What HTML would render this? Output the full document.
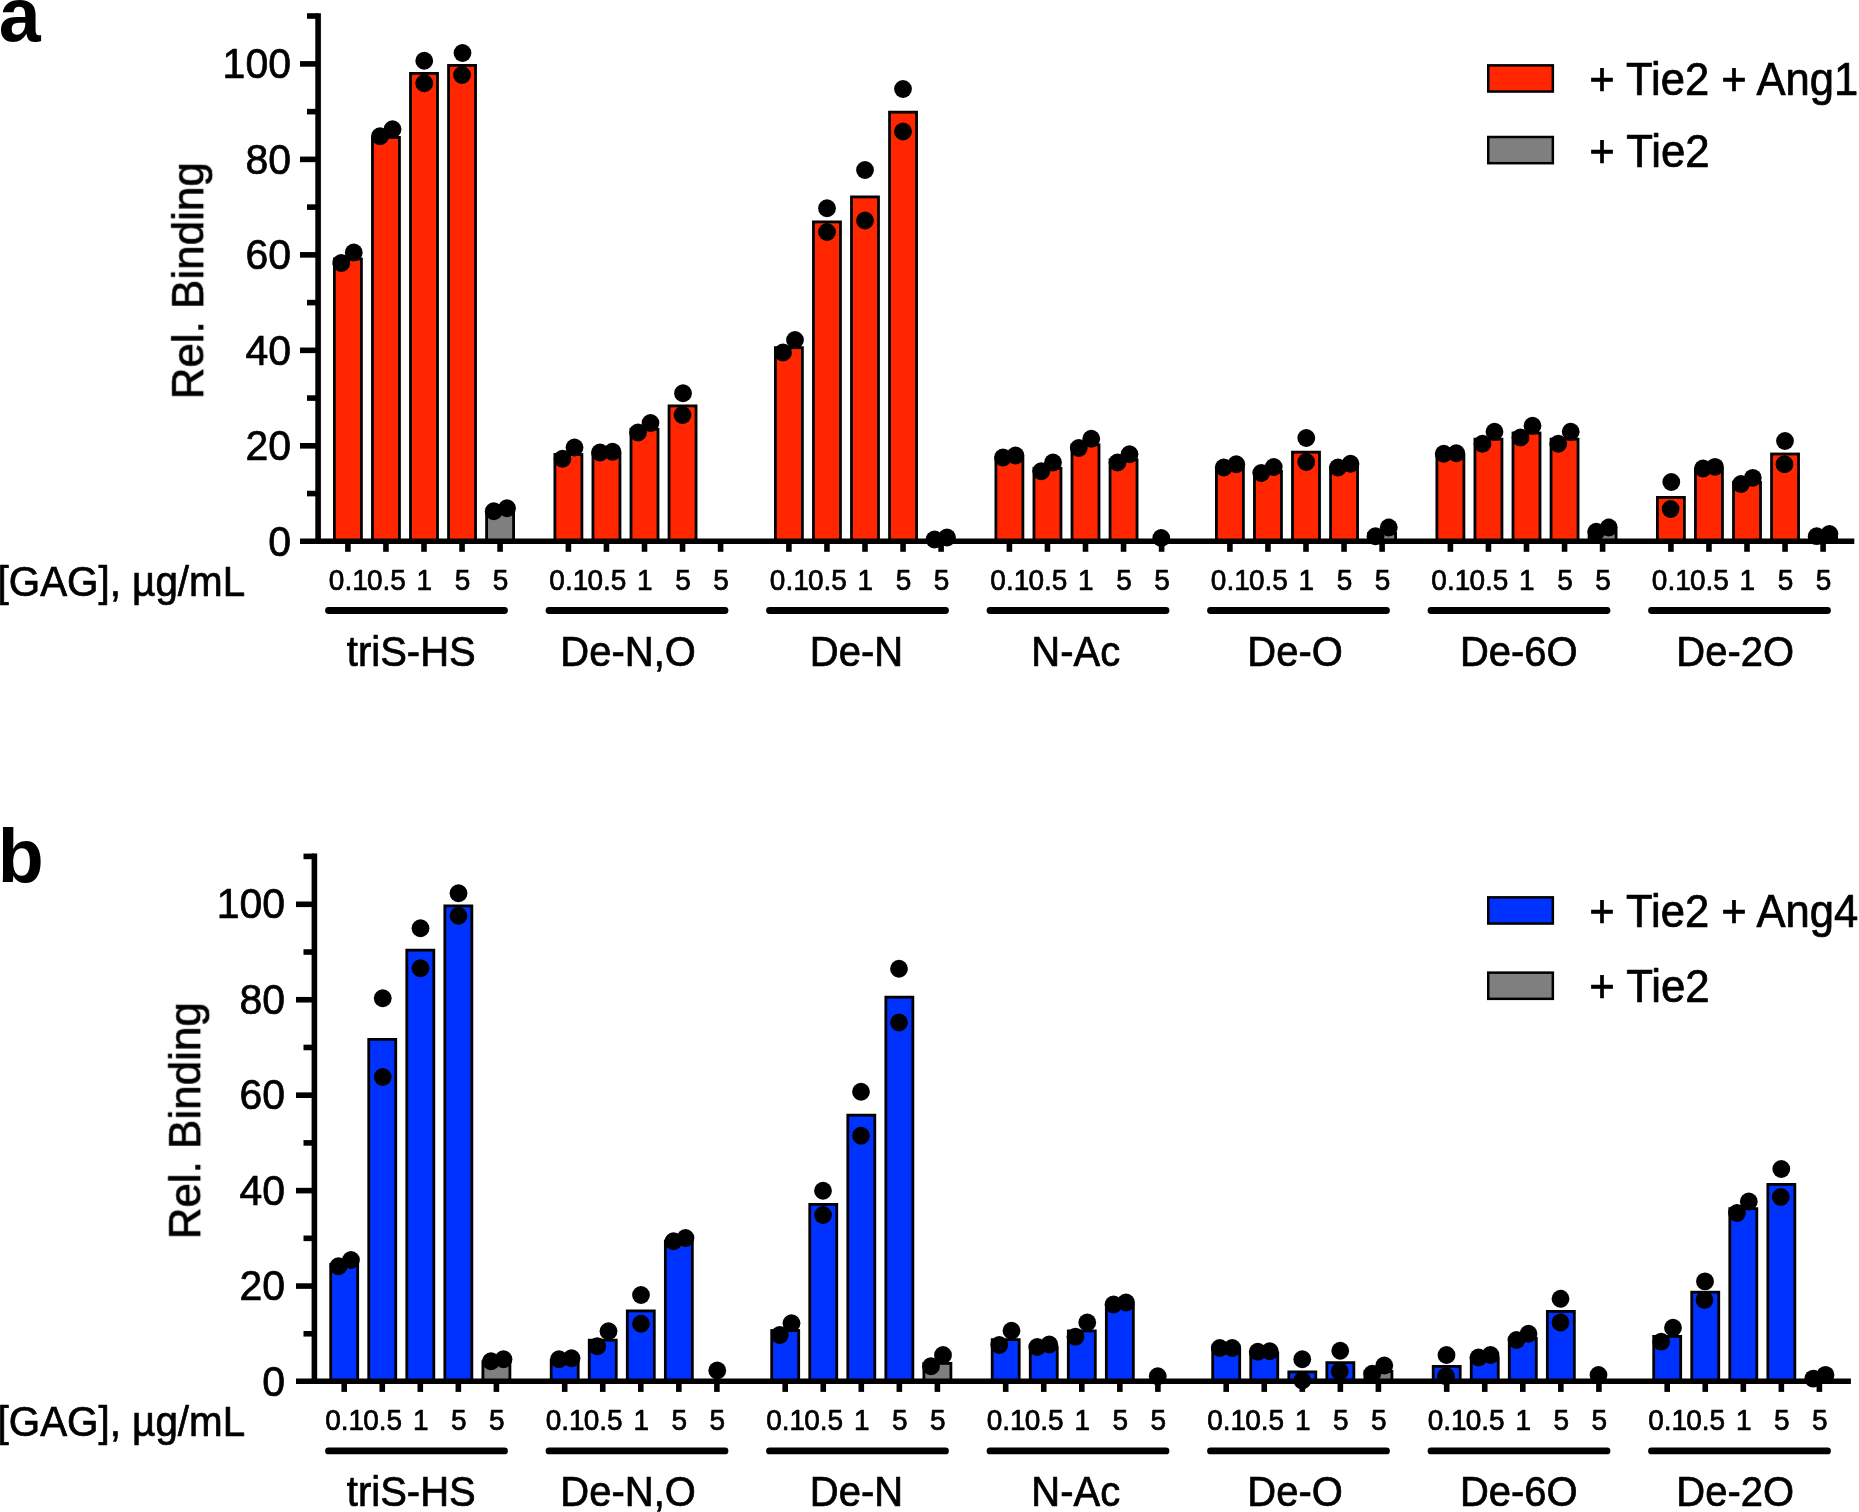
<!DOCTYPE html>
<html lang="en">
<head>
<meta charset="utf-8">
<title>Rel. Binding of Tie2 to GAGs</title>
<style>
html,body{margin:0;padding:0;background:#fff;}
body{width:1859px;height:1512px;overflow:hidden;}
svg{display:block;}
svg text{font-family:"Liberation Sans", Arial, Helvetica, sans-serif;fill:#000;stroke:#000;stroke-width:0.7px;stroke-linejoin:round;}
</style>
</head>
<body>
<svg width="1859" height="1512" viewBox="0 0 1859 1512">
<defs><filter id="soft" x="0" y="0" width="1859" height="1512" filterUnits="userSpaceOnUse"><feGaussianBlur stdDeviation="0.55"/></filter></defs>
<rect width="1859" height="1512" fill="#fff"/>
<g filter="url(#soft)">
<g id="chart-a">
<rect x="334.4" y="258.9" width="27" height="282.3" fill="#FF2600" stroke="#000" stroke-width="2.8"/>
<rect x="372.45" y="137.4" width="27" height="403.8" fill="#FF2600" stroke="#000" stroke-width="2.8"/>
<rect x="410.5" y="73.4" width="27" height="467.8" fill="#FF2600" stroke="#000" stroke-width="2.8"/>
<rect x="448.55" y="65.4" width="27" height="475.8" fill="#FF2600" stroke="#000" stroke-width="2.8"/>
<rect x="486.6" y="511.15" width="27" height="30.05" fill="#7F7F7F" stroke="#000" stroke-width="2.8"/>
<rect x="554.9" y="454.5" width="27" height="86.7" fill="#FF2600" stroke="#000" stroke-width="2.8"/>
<rect x="592.95" y="453.5" width="27" height="87.7" fill="#FF2600" stroke="#000" stroke-width="2.8"/>
<rect x="631" y="429.15" width="27" height="112.05" fill="#FF2600" stroke="#000" stroke-width="2.8"/>
<rect x="669.05" y="405.9" width="27" height="135.3" fill="#FF2600" stroke="#000" stroke-width="2.8"/>
<rect x="775.4" y="347.65" width="27" height="193.55" fill="#FF2600" stroke="#000" stroke-width="2.8"/>
<rect x="813.45" y="221.9" width="27" height="319.3" fill="#FF2600" stroke="#000" stroke-width="2.8"/>
<rect x="851.5" y="196.9" width="27" height="344.3" fill="#FF2600" stroke="#000" stroke-width="2.8"/>
<rect x="889.55" y="112.15" width="27" height="429.05" fill="#FF2600" stroke="#000" stroke-width="2.8"/>
<rect x="995.9" y="457.9" width="27" height="83.3" fill="#FF2600" stroke="#000" stroke-width="2.8"/>
<rect x="1033.95" y="468.3" width="27" height="72.9" fill="#FF2600" stroke="#000" stroke-width="2.8"/>
<rect x="1072" y="444.8" width="27" height="96.4" fill="#FF2600" stroke="#000" stroke-width="2.8"/>
<rect x="1110.05" y="459.8" width="27" height="81.4" fill="#FF2600" stroke="#000" stroke-width="2.8"/>
<rect x="1216.4" y="467.3" width="27" height="73.9" fill="#FF2600" stroke="#000" stroke-width="2.8"/>
<rect x="1254.45" y="471.4" width="27" height="69.8" fill="#FF2600" stroke="#000" stroke-width="2.8"/>
<rect x="1292.5" y="452.15" width="27" height="89.05" fill="#FF2600" stroke="#000" stroke-width="2.8"/>
<rect x="1330.55" y="467" width="27" height="74.2" fill="#FF2600" stroke="#000" stroke-width="2.8"/>
<rect x="1368.6" y="533.4" width="27" height="7.8" fill="#7F7F7F" stroke="#000" stroke-width="2.8"/>
<rect x="1436.9" y="454.9" width="27" height="86.3" fill="#FF2600" stroke="#000" stroke-width="2.8"/>
<rect x="1474.95" y="439.15" width="27" height="102.05" fill="#FF2600" stroke="#000" stroke-width="2.8"/>
<rect x="1513" y="433" width="27" height="108.2" fill="#FF2600" stroke="#000" stroke-width="2.8"/>
<rect x="1551.05" y="439.15" width="27" height="102.05" fill="#FF2600" stroke="#000" stroke-width="2.8"/>
<rect x="1589.1" y="531" width="27" height="10.2" fill="#7F7F7F" stroke="#000" stroke-width="2.8"/>
<rect x="1657.4" y="497.4" width="27" height="43.8" fill="#FF2600" stroke="#000" stroke-width="2.8"/>
<rect x="1695.45" y="469" width="27" height="72.2" fill="#FF2600" stroke="#000" stroke-width="2.8"/>
<rect x="1733.5" y="482.3" width="27" height="58.9" fill="#FF2600" stroke="#000" stroke-width="2.8"/>
<rect x="1771.55" y="454" width="27" height="87.2" fill="#FF2600" stroke="#000" stroke-width="2.8"/>
<rect x="1809.6" y="536.4" width="27" height="4.8" fill="#7F7F7F" stroke="#000" stroke-width="2.8"/>
<g stroke="#000" fill="none">
<line x1="318.1" y1="13.2" x2="318.1" y2="544" stroke-width="5.6"/>
<line x1="300" y1="541.2" x2="1854.3" y2="541.2" stroke-width="5.6"/>
<line x1="307" y1="493.56" x2="318.1" y2="493.56" stroke-width="5.6"/>
<line x1="300" y1="445.82" x2="318.1" y2="445.82" stroke-width="5.6"/>
<line x1="307" y1="398.08" x2="318.1" y2="398.08" stroke-width="5.6"/>
<line x1="300" y1="350.34" x2="318.1" y2="350.34" stroke-width="5.6"/>
<line x1="307" y1="302.6" x2="318.1" y2="302.6" stroke-width="5.6"/>
<line x1="300" y1="254.86" x2="318.1" y2="254.86" stroke-width="5.6"/>
<line x1="307" y1="207.12" x2="318.1" y2="207.12" stroke-width="5.6"/>
<line x1="300" y1="159.38" x2="318.1" y2="159.38" stroke-width="5.6"/>
<line x1="307" y1="111.64" x2="318.1" y2="111.64" stroke-width="5.6"/>
<line x1="300" y1="63.9" x2="318.1" y2="63.9" stroke-width="5.6"/>
<line x1="307" y1="16" x2="318.1" y2="16" stroke-width="5.6"/>
<line x1="347.9" y1="541.2" x2="347.9" y2="551.8" stroke-width="5.6"/>
<line x1="385.95" y1="541.2" x2="385.95" y2="551.8" stroke-width="5.6"/>
<line x1="424" y1="541.2" x2="424" y2="551.8" stroke-width="5.6"/>
<line x1="462.05" y1="541.2" x2="462.05" y2="551.8" stroke-width="5.6"/>
<line x1="500.1" y1="541.2" x2="500.1" y2="551.8" stroke-width="5.6"/>
<line x1="568.4" y1="541.2" x2="568.4" y2="551.8" stroke-width="5.6"/>
<line x1="606.45" y1="541.2" x2="606.45" y2="551.8" stroke-width="5.6"/>
<line x1="644.5" y1="541.2" x2="644.5" y2="551.8" stroke-width="5.6"/>
<line x1="682.55" y1="541.2" x2="682.55" y2="551.8" stroke-width="5.6"/>
<line x1="720.6" y1="541.2" x2="720.6" y2="551.8" stroke-width="5.6"/>
<line x1="788.9" y1="541.2" x2="788.9" y2="551.8" stroke-width="5.6"/>
<line x1="826.95" y1="541.2" x2="826.95" y2="551.8" stroke-width="5.6"/>
<line x1="865" y1="541.2" x2="865" y2="551.8" stroke-width="5.6"/>
<line x1="903.05" y1="541.2" x2="903.05" y2="551.8" stroke-width="5.6"/>
<line x1="941.1" y1="541.2" x2="941.1" y2="551.8" stroke-width="5.6"/>
<line x1="1009.4" y1="541.2" x2="1009.4" y2="551.8" stroke-width="5.6"/>
<line x1="1047.45" y1="541.2" x2="1047.45" y2="551.8" stroke-width="5.6"/>
<line x1="1085.5" y1="541.2" x2="1085.5" y2="551.8" stroke-width="5.6"/>
<line x1="1123.55" y1="541.2" x2="1123.55" y2="551.8" stroke-width="5.6"/>
<line x1="1161.6" y1="541.2" x2="1161.6" y2="551.8" stroke-width="5.6"/>
<line x1="1229.9" y1="541.2" x2="1229.9" y2="551.8" stroke-width="5.6"/>
<line x1="1267.95" y1="541.2" x2="1267.95" y2="551.8" stroke-width="5.6"/>
<line x1="1306" y1="541.2" x2="1306" y2="551.8" stroke-width="5.6"/>
<line x1="1344.05" y1="541.2" x2="1344.05" y2="551.8" stroke-width="5.6"/>
<line x1="1382.1" y1="541.2" x2="1382.1" y2="551.8" stroke-width="5.6"/>
<line x1="1450.4" y1="541.2" x2="1450.4" y2="551.8" stroke-width="5.6"/>
<line x1="1488.45" y1="541.2" x2="1488.45" y2="551.8" stroke-width="5.6"/>
<line x1="1526.5" y1="541.2" x2="1526.5" y2="551.8" stroke-width="5.6"/>
<line x1="1564.55" y1="541.2" x2="1564.55" y2="551.8" stroke-width="5.6"/>
<line x1="1602.6" y1="541.2" x2="1602.6" y2="551.8" stroke-width="5.6"/>
<line x1="1670.9" y1="541.2" x2="1670.9" y2="551.8" stroke-width="5.6"/>
<line x1="1708.95" y1="541.2" x2="1708.95" y2="551.8" stroke-width="5.6"/>
<line x1="1747" y1="541.2" x2="1747" y2="551.8" stroke-width="5.6"/>
<line x1="1785.05" y1="541.2" x2="1785.05" y2="551.8" stroke-width="5.6"/>
<line x1="1823.1" y1="541.2" x2="1823.1" y2="551.8" stroke-width="5.6"/>
</g>
<g fill="#000">
<circle cx="341.25" cy="263" r="8.9"/>
<circle cx="353.75" cy="252.5" r="8.9"/>
<circle cx="380" cy="136.25" r="8.9"/>
<circle cx="392.5" cy="129.25" r="8.9"/>
<circle cx="424.25" cy="60.75" r="8.9"/>
<circle cx="424.25" cy="83.25" r="8.9"/>
<circle cx="462.5" cy="53" r="8.9"/>
<circle cx="462" cy="75" r="8.9"/>
<circle cx="493.75" cy="511.25" r="8.9"/>
<circle cx="507" cy="508.25" r="8.9"/>
<circle cx="562.5" cy="458.75" r="8.9"/>
<circle cx="574.5" cy="447.5" r="8.9"/>
<circle cx="600" cy="452.5" r="8.9"/>
<circle cx="612.5" cy="451.75" r="8.9"/>
<circle cx="638" cy="432.5" r="8.9"/>
<circle cx="650.5" cy="423" r="8.9"/>
<circle cx="683" cy="393.25" r="8.9"/>
<circle cx="682.5" cy="415" r="8.9"/>
<circle cx="783" cy="352.5" r="8.9"/>
<circle cx="795" cy="340" r="8.9"/>
<circle cx="827" cy="208.25" r="8.9"/>
<circle cx="827" cy="232" r="8.9"/>
<circle cx="865" cy="170" r="8.9"/>
<circle cx="865" cy="220.5" r="8.9"/>
<circle cx="903" cy="89" r="8.9"/>
<circle cx="903" cy="131.5" r="8.9"/>
<circle cx="934.5" cy="539.5" r="8.9"/>
<circle cx="947" cy="537.5" r="8.9"/>
<circle cx="1003" cy="457.5" r="8.9"/>
<circle cx="1015.5" cy="455.5" r="8.9"/>
<circle cx="1041.25" cy="471.25" r="8.9"/>
<circle cx="1053" cy="462.5" r="8.9"/>
<circle cx="1078.75" cy="448" r="8.9"/>
<circle cx="1091.25" cy="438.75" r="8.9"/>
<circle cx="1117.5" cy="462.5" r="8.9"/>
<circle cx="1129.5" cy="454.25" r="8.9"/>
<circle cx="1161.25" cy="538" r="8.9"/>
<circle cx="1223.75" cy="467.5" r="8.9"/>
<circle cx="1236.25" cy="464.25" r="8.9"/>
<circle cx="1261.25" cy="473" r="8.9"/>
<circle cx="1273.75" cy="467" r="8.9"/>
<circle cx="1306.25" cy="438" r="8.9"/>
<circle cx="1306.25" cy="462" r="8.9"/>
<circle cx="1338" cy="467.5" r="8.9"/>
<circle cx="1350.5" cy="463.75" r="8.9"/>
<circle cx="1375.5" cy="536.25" r="8.9"/>
<circle cx="1388.75" cy="527.5" r="8.9"/>
<circle cx="1443.75" cy="453.75" r="8.9"/>
<circle cx="1456.25" cy="453.25" r="8.9"/>
<circle cx="1482.5" cy="443.75" r="8.9"/>
<circle cx="1494.5" cy="431.75" r="8.9"/>
<circle cx="1520.5" cy="437.5" r="8.9"/>
<circle cx="1532.5" cy="425.75" r="8.9"/>
<circle cx="1558.25" cy="443.75" r="8.9"/>
<circle cx="1570.75" cy="431.75" r="8.9"/>
<circle cx="1596.25" cy="531.75" r="8.9"/>
<circle cx="1608.75" cy="527.5" r="8.9"/>
<circle cx="1671.3" cy="482" r="8.9"/>
<circle cx="1670.6" cy="509" r="8.9"/>
<circle cx="1703" cy="468.5" r="8.9"/>
<circle cx="1715" cy="466.8" r="8.9"/>
<circle cx="1741" cy="484" r="8.9"/>
<circle cx="1752.8" cy="477.8" r="8.9"/>
<circle cx="1785" cy="441" r="8.9"/>
<circle cx="1784.5" cy="464.2" r="8.9"/>
<circle cx="1816.7" cy="536.2" r="8.9"/>
<circle cx="1829.4" cy="534" r="8.9"/>
</g>
<text transform="translate(291 555.5) scale(1 1.05)" font-size="41" text-anchor="end">0</text>
<text transform="translate(291 460.02) scale(1 1.05)" font-size="41" text-anchor="end">20</text>
<text transform="translate(291 364.54) scale(1 1.05)" font-size="41" text-anchor="end">40</text>
<text transform="translate(291 269.06) scale(1 1.05)" font-size="41" text-anchor="end">60</text>
<text transform="translate(291 173.58) scale(1 1.05)" font-size="41" text-anchor="end">80</text>
<text transform="translate(291 78.1) scale(1 1.05)" font-size="41" text-anchor="end">100</text>
<text transform="translate(348.3 589.8) scale(1 1.045)" font-size="28" text-anchor="middle">0.1</text>
<text transform="translate(386.35 589.8) scale(1 1.045)" font-size="28" text-anchor="middle">0.5</text>
<text transform="translate(424.4 589.8) scale(1 1.045)" font-size="28" text-anchor="middle">1</text>
<text transform="translate(462.45 589.8) scale(1 1.045)" font-size="28" text-anchor="middle">5</text>
<text transform="translate(500.5 589.8) scale(1 1.045)" font-size="28" text-anchor="middle">5</text>
<text transform="translate(568.8 589.8) scale(1 1.045)" font-size="28" text-anchor="middle">0.1</text>
<text transform="translate(606.85 589.8) scale(1 1.045)" font-size="28" text-anchor="middle">0.5</text>
<text transform="translate(644.9 589.8) scale(1 1.045)" font-size="28" text-anchor="middle">1</text>
<text transform="translate(682.95 589.8) scale(1 1.045)" font-size="28" text-anchor="middle">5</text>
<text transform="translate(721 589.8) scale(1 1.045)" font-size="28" text-anchor="middle">5</text>
<text transform="translate(789.3 589.8) scale(1 1.045)" font-size="28" text-anchor="middle">0.1</text>
<text transform="translate(827.35 589.8) scale(1 1.045)" font-size="28" text-anchor="middle">0.5</text>
<text transform="translate(865.4 589.8) scale(1 1.045)" font-size="28" text-anchor="middle">1</text>
<text transform="translate(903.45 589.8) scale(1 1.045)" font-size="28" text-anchor="middle">5</text>
<text transform="translate(941.5 589.8) scale(1 1.045)" font-size="28" text-anchor="middle">5</text>
<text transform="translate(1009.8 589.8) scale(1 1.045)" font-size="28" text-anchor="middle">0.1</text>
<text transform="translate(1047.85 589.8) scale(1 1.045)" font-size="28" text-anchor="middle">0.5</text>
<text transform="translate(1085.9 589.8) scale(1 1.045)" font-size="28" text-anchor="middle">1</text>
<text transform="translate(1123.95 589.8) scale(1 1.045)" font-size="28" text-anchor="middle">5</text>
<text transform="translate(1162 589.8) scale(1 1.045)" font-size="28" text-anchor="middle">5</text>
<text transform="translate(1230.3 589.8) scale(1 1.045)" font-size="28" text-anchor="middle">0.1</text>
<text transform="translate(1268.35 589.8) scale(1 1.045)" font-size="28" text-anchor="middle">0.5</text>
<text transform="translate(1306.4 589.8) scale(1 1.045)" font-size="28" text-anchor="middle">1</text>
<text transform="translate(1344.45 589.8) scale(1 1.045)" font-size="28" text-anchor="middle">5</text>
<text transform="translate(1382.5 589.8) scale(1 1.045)" font-size="28" text-anchor="middle">5</text>
<text transform="translate(1450.8 589.8) scale(1 1.045)" font-size="28" text-anchor="middle">0.1</text>
<text transform="translate(1488.85 589.8) scale(1 1.045)" font-size="28" text-anchor="middle">0.5</text>
<text transform="translate(1526.9 589.8) scale(1 1.045)" font-size="28" text-anchor="middle">1</text>
<text transform="translate(1564.95 589.8) scale(1 1.045)" font-size="28" text-anchor="middle">5</text>
<text transform="translate(1603 589.8) scale(1 1.045)" font-size="28" text-anchor="middle">5</text>
<text transform="translate(1671.3 589.8) scale(1 1.045)" font-size="28" text-anchor="middle">0.1</text>
<text transform="translate(1709.35 589.8) scale(1 1.045)" font-size="28" text-anchor="middle">0.5</text>
<text transform="translate(1747.4 589.8) scale(1 1.045)" font-size="28" text-anchor="middle">1</text>
<text transform="translate(1785.45 589.8) scale(1 1.045)" font-size="28" text-anchor="middle">5</text>
<text transform="translate(1823.5 589.8) scale(1 1.045)" font-size="28" text-anchor="middle">5</text>
<g stroke="#000" stroke-width="6.8" stroke-linecap="round">
<line x1="328.5" y1="610.5" x2="504.5" y2="610.5"/>
<line x1="549" y1="610.5" x2="725" y2="610.5"/>
<line x1="769.5" y1="610.5" x2="945.5" y2="610.5"/>
<line x1="990" y1="610.5" x2="1166" y2="610.5"/>
<line x1="1210.5" y1="610.5" x2="1386.5" y2="610.5"/>
<line x1="1431" y1="610.5" x2="1607" y2="610.5"/>
<line x1="1651.5" y1="610.5" x2="1827.5" y2="610.5"/>
</g>
<text transform="translate(411.25 665.7) scale(1 1.045)" font-size="40" text-anchor="middle">triS-HS</text>
<text transform="translate(628.1 665.7) scale(1 1.045)" font-size="40" text-anchor="middle">De-N,O</text>
<text transform="translate(856.5 665.7) scale(1 1.045)" font-size="40" text-anchor="middle">De-N</text>
<text transform="translate(1075.8 665.7) scale(1 1.045)" font-size="40" text-anchor="middle">N-Ac</text>
<text transform="translate(1295.1 665.7) scale(1 1.045)" font-size="40" text-anchor="middle">De-O</text>
<text transform="translate(1518.8 665.7) scale(1 1.045)" font-size="40" text-anchor="middle">De-6O</text>
<text transform="translate(1735.2 665.7) scale(1 1.045)" font-size="40" text-anchor="middle">De-2O</text>
<text transform="translate(203.2 280.8) rotate(-90)" font-size="44" text-anchor="middle">Rel. Binding</text>
<text transform="translate(-2.5 595.6) scale(1 1.045)" font-size="40.4">[GAG], µg/mL</text>
<rect x="1488.25" y="65.35" width="64.6" height="26.2" fill="#FF2600" stroke="#000" stroke-width="2.5"/>
<rect x="1488.25" y="137" width="64.6" height="26.2" fill="#7F7F7F" stroke="#000" stroke-width="2.5"/>
<text transform="translate(1589.2 94.9) scale(1 1.045)" font-size="43.6">+ Tie2 + Ang1</text>
<text transform="translate(1589.2 167) scale(1 1.045)" font-size="43.8">+ Tie2</text>
<text style="stroke-width:0" transform="translate(-1.3 40.8)" font-size="75.3" font-weight="bold">a</text>
</g>
<g id="chart-b">
<rect x="330.7" y="1264.5" width="27" height="116.8" fill="#0433FF" stroke="#000" stroke-width="2.8"/>
<rect x="368.75" y="1039.4" width="27" height="341.9" fill="#0433FF" stroke="#000" stroke-width="2.8"/>
<rect x="406.8" y="950.15" width="27" height="431.15" fill="#0433FF" stroke="#000" stroke-width="2.8"/>
<rect x="444.85" y="905.9" width="27" height="475.4" fill="#0433FF" stroke="#000" stroke-width="2.8"/>
<rect x="482.9" y="1361.65" width="27" height="19.65" fill="#7F7F7F" stroke="#000" stroke-width="2.8"/>
<rect x="551.2" y="1360.15" width="27" height="21.15" fill="#0433FF" stroke="#000" stroke-width="2.8"/>
<rect x="589.25" y="1340.15" width="27" height="41.15" fill="#0433FF" stroke="#000" stroke-width="2.8"/>
<rect x="627.3" y="1310.9" width="27" height="70.4" fill="#0433FF" stroke="#000" stroke-width="2.8"/>
<rect x="665.35" y="1241" width="27" height="140.3" fill="#0433FF" stroke="#000" stroke-width="2.8"/>
<rect x="771.7" y="1330.5" width="27" height="50.8" fill="#0433FF" stroke="#000" stroke-width="2.8"/>
<rect x="809.75" y="1204.4" width="27" height="176.9" fill="#0433FF" stroke="#000" stroke-width="2.8"/>
<rect x="847.8" y="1115.15" width="27" height="266.15" fill="#0433FF" stroke="#000" stroke-width="2.8"/>
<rect x="885.85" y="997.15" width="27" height="384.15" fill="#0433FF" stroke="#000" stroke-width="2.8"/>
<rect x="923.9" y="1363.4" width="27" height="17.9" fill="#7F7F7F" stroke="#000" stroke-width="2.8"/>
<rect x="992.2" y="1339.65" width="27" height="41.65" fill="#0433FF" stroke="#000" stroke-width="2.8"/>
<rect x="1030.25" y="1347.15" width="27" height="34.15" fill="#0433FF" stroke="#000" stroke-width="2.8"/>
<rect x="1068.3" y="1330.9" width="27" height="50.4" fill="#0433FF" stroke="#000" stroke-width="2.8"/>
<rect x="1106.35" y="1304.9" width="27" height="76.4" fill="#0433FF" stroke="#000" stroke-width="2.8"/>
<rect x="1212.7" y="1349.4" width="27" height="31.9" fill="#0433FF" stroke="#000" stroke-width="2.8"/>
<rect x="1250.75" y="1352.9" width="27" height="28.4" fill="#0433FF" stroke="#000" stroke-width="2.8"/>
<rect x="1288.8" y="1371.9" width="27" height="9.4" fill="#0433FF" stroke="#000" stroke-width="2.8"/>
<rect x="1326.85" y="1362.65" width="27" height="18.65" fill="#0433FF" stroke="#000" stroke-width="2.8"/>
<rect x="1364.9" y="1371.4" width="27" height="9.9" fill="#7F7F7F" stroke="#000" stroke-width="2.8"/>
<rect x="1433.2" y="1366.4" width="27" height="14.9" fill="#0433FF" stroke="#000" stroke-width="2.8"/>
<rect x="1471.25" y="1357.65" width="27" height="23.65" fill="#0433FF" stroke="#000" stroke-width="2.8"/>
<rect x="1509.3" y="1338.3" width="27" height="43" fill="#0433FF" stroke="#000" stroke-width="2.8"/>
<rect x="1547.35" y="1311.4" width="27" height="69.9" fill="#0433FF" stroke="#000" stroke-width="2.8"/>
<rect x="1653.7" y="1336.4" width="27" height="44.9" fill="#0433FF" stroke="#000" stroke-width="2.8"/>
<rect x="1691.75" y="1292.2" width="27" height="89.1" fill="#0433FF" stroke="#000" stroke-width="2.8"/>
<rect x="1729.8" y="1208.65" width="27" height="172.65" fill="#0433FF" stroke="#000" stroke-width="2.8"/>
<rect x="1767.85" y="1184.4" width="27" height="196.9" fill="#0433FF" stroke="#000" stroke-width="2.8"/>
<g stroke="#000" fill="none">
<line x1="314.4" y1="853.6" x2="314.4" y2="1384.1" stroke-width="5.6"/>
<line x1="296" y1="1381.3" x2="1850.9" y2="1381.3" stroke-width="5.6"/>
<line x1="303.5" y1="1333.78" x2="314.4" y2="1333.78" stroke-width="5.6"/>
<line x1="296" y1="1286.06" x2="314.4" y2="1286.06" stroke-width="5.6"/>
<line x1="303.5" y1="1238.34" x2="314.4" y2="1238.34" stroke-width="5.6"/>
<line x1="296" y1="1190.62" x2="314.4" y2="1190.62" stroke-width="5.6"/>
<line x1="303.5" y1="1142.9" x2="314.4" y2="1142.9" stroke-width="5.6"/>
<line x1="296" y1="1095.18" x2="314.4" y2="1095.18" stroke-width="5.6"/>
<line x1="303.5" y1="1047.46" x2="314.4" y2="1047.46" stroke-width="5.6"/>
<line x1="296" y1="999.74" x2="314.4" y2="999.74" stroke-width="5.6"/>
<line x1="303.5" y1="952.02" x2="314.4" y2="952.02" stroke-width="5.6"/>
<line x1="296" y1="904.3" x2="314.4" y2="904.3" stroke-width="5.6"/>
<line x1="303.5" y1="856.4" x2="314.4" y2="856.4" stroke-width="5.6"/>
<line x1="344.2" y1="1381.3" x2="344.2" y2="1391.9" stroke-width="5.6"/>
<line x1="382.25" y1="1381.3" x2="382.25" y2="1391.9" stroke-width="5.6"/>
<line x1="420.3" y1="1381.3" x2="420.3" y2="1391.9" stroke-width="5.6"/>
<line x1="458.35" y1="1381.3" x2="458.35" y2="1391.9" stroke-width="5.6"/>
<line x1="496.4" y1="1381.3" x2="496.4" y2="1391.9" stroke-width="5.6"/>
<line x1="564.7" y1="1381.3" x2="564.7" y2="1391.9" stroke-width="5.6"/>
<line x1="602.75" y1="1381.3" x2="602.75" y2="1391.9" stroke-width="5.6"/>
<line x1="640.8" y1="1381.3" x2="640.8" y2="1391.9" stroke-width="5.6"/>
<line x1="678.85" y1="1381.3" x2="678.85" y2="1391.9" stroke-width="5.6"/>
<line x1="716.9" y1="1381.3" x2="716.9" y2="1391.9" stroke-width="5.6"/>
<line x1="785.2" y1="1381.3" x2="785.2" y2="1391.9" stroke-width="5.6"/>
<line x1="823.25" y1="1381.3" x2="823.25" y2="1391.9" stroke-width="5.6"/>
<line x1="861.3" y1="1381.3" x2="861.3" y2="1391.9" stroke-width="5.6"/>
<line x1="899.35" y1="1381.3" x2="899.35" y2="1391.9" stroke-width="5.6"/>
<line x1="937.4" y1="1381.3" x2="937.4" y2="1391.9" stroke-width="5.6"/>
<line x1="1005.7" y1="1381.3" x2="1005.7" y2="1391.9" stroke-width="5.6"/>
<line x1="1043.75" y1="1381.3" x2="1043.75" y2="1391.9" stroke-width="5.6"/>
<line x1="1081.8" y1="1381.3" x2="1081.8" y2="1391.9" stroke-width="5.6"/>
<line x1="1119.85" y1="1381.3" x2="1119.85" y2="1391.9" stroke-width="5.6"/>
<line x1="1157.9" y1="1381.3" x2="1157.9" y2="1391.9" stroke-width="5.6"/>
<line x1="1226.2" y1="1381.3" x2="1226.2" y2="1391.9" stroke-width="5.6"/>
<line x1="1264.25" y1="1381.3" x2="1264.25" y2="1391.9" stroke-width="5.6"/>
<line x1="1302.3" y1="1381.3" x2="1302.3" y2="1391.9" stroke-width="5.6"/>
<line x1="1340.35" y1="1381.3" x2="1340.35" y2="1391.9" stroke-width="5.6"/>
<line x1="1378.4" y1="1381.3" x2="1378.4" y2="1391.9" stroke-width="5.6"/>
<line x1="1446.7" y1="1381.3" x2="1446.7" y2="1391.9" stroke-width="5.6"/>
<line x1="1484.75" y1="1381.3" x2="1484.75" y2="1391.9" stroke-width="5.6"/>
<line x1="1522.8" y1="1381.3" x2="1522.8" y2="1391.9" stroke-width="5.6"/>
<line x1="1560.85" y1="1381.3" x2="1560.85" y2="1391.9" stroke-width="5.6"/>
<line x1="1598.9" y1="1381.3" x2="1598.9" y2="1391.9" stroke-width="5.6"/>
<line x1="1667.2" y1="1381.3" x2="1667.2" y2="1391.9" stroke-width="5.6"/>
<line x1="1705.25" y1="1381.3" x2="1705.25" y2="1391.9" stroke-width="5.6"/>
<line x1="1743.3" y1="1381.3" x2="1743.3" y2="1391.9" stroke-width="5.6"/>
<line x1="1781.35" y1="1381.3" x2="1781.35" y2="1391.9" stroke-width="5.6"/>
<line x1="1819.4" y1="1381.3" x2="1819.4" y2="1391.9" stroke-width="5.6"/>
</g>
<g fill="#000">
<circle cx="338.5" cy="1266.25" r="8.9"/>
<circle cx="351" cy="1260" r="8.9"/>
<circle cx="382.75" cy="998.25" r="8.9"/>
<circle cx="382.75" cy="1077" r="8.9"/>
<circle cx="420.5" cy="928.25" r="8.9"/>
<circle cx="420.5" cy="968.25" r="8.9"/>
<circle cx="458.5" cy="893.25" r="8.9"/>
<circle cx="458.5" cy="915.75" r="8.9"/>
<circle cx="491" cy="1361.25" r="8.9"/>
<circle cx="503.5" cy="1359.25" r="8.9"/>
<circle cx="559" cy="1359.25" r="8.9"/>
<circle cx="571.5" cy="1358.25" r="8.9"/>
<circle cx="597.25" cy="1346.25" r="8.9"/>
<circle cx="608.5" cy="1331.25" r="8.9"/>
<circle cx="641" cy="1295" r="8.9"/>
<circle cx="641" cy="1323.75" r="8.9"/>
<circle cx="673.5" cy="1241.25" r="8.9"/>
<circle cx="685.5" cy="1238" r="8.9"/>
<circle cx="717.25" cy="1370.5" r="8.9"/>
<circle cx="779.75" cy="1335" r="8.9"/>
<circle cx="791.5" cy="1323.25" r="8.9"/>
<circle cx="823" cy="1190.75" r="8.9"/>
<circle cx="823" cy="1215" r="8.9"/>
<circle cx="861" cy="1091.75" r="8.9"/>
<circle cx="861" cy="1135.75" r="8.9"/>
<circle cx="899" cy="968.75" r="8.9"/>
<circle cx="899" cy="1022.5" r="8.9"/>
<circle cx="931" cy="1366.25" r="8.9"/>
<circle cx="943" cy="1355" r="8.9"/>
<circle cx="999.25" cy="1345" r="8.9"/>
<circle cx="1011.5" cy="1330.75" r="8.9"/>
<circle cx="1037.25" cy="1347" r="8.9"/>
<circle cx="1049.25" cy="1344.5" r="8.9"/>
<circle cx="1075.5" cy="1336.75" r="8.9"/>
<circle cx="1087.25" cy="1322.5" r="8.9"/>
<circle cx="1113.5" cy="1304.5" r="8.9"/>
<circle cx="1126" cy="1302.5" r="8.9"/>
<circle cx="1157.75" cy="1376.25" r="8.9"/>
<circle cx="1219.75" cy="1348" r="8.9"/>
<circle cx="1232.25" cy="1348" r="8.9"/>
<circle cx="1257.75" cy="1351.75" r="8.9"/>
<circle cx="1269.75" cy="1351.25" r="8.9"/>
<circle cx="1302.25" cy="1359.25" r="8.9"/>
<circle cx="1302.25" cy="1380.5" r="8.9"/>
<circle cx="1340.25" cy="1350.75" r="8.9"/>
<circle cx="1339.75" cy="1371.25" r="8.9"/>
<circle cx="1372.25" cy="1373.75" r="8.9"/>
<circle cx="1384.25" cy="1365.5" r="8.9"/>
<circle cx="1446.5" cy="1355" r="8.9"/>
<circle cx="1446" cy="1376.25" r="8.9"/>
<circle cx="1478.5" cy="1357.5" r="8.9"/>
<circle cx="1490.5" cy="1355" r="8.9"/>
<circle cx="1516.5" cy="1340" r="8.9"/>
<circle cx="1528.5" cy="1333.75" r="8.9"/>
<circle cx="1560.5" cy="1298.75" r="8.9"/>
<circle cx="1560.5" cy="1322.5" r="8.9"/>
<circle cx="1598.5" cy="1375" r="8.9"/>
<circle cx="1661.2" cy="1341.7" r="8.9"/>
<circle cx="1673" cy="1327.7" r="8.9"/>
<circle cx="1705" cy="1281.4" r="8.9"/>
<circle cx="1704.5" cy="1299.9" r="8.9"/>
<circle cx="1737" cy="1213" r="8.9"/>
<circle cx="1748.8" cy="1201.5" r="8.9"/>
<circle cx="1781.3" cy="1169" r="8.9"/>
<circle cx="1780.8" cy="1197" r="8.9"/>
<circle cx="1813.3" cy="1378.6" r="8.9"/>
<circle cx="1825.5" cy="1374.9" r="8.9"/>
</g>
<text transform="translate(285.1 1395.7) scale(1 1.05)" font-size="41" text-anchor="end">0</text>
<text transform="translate(285.1 1300.26) scale(1 1.05)" font-size="41" text-anchor="end">20</text>
<text transform="translate(285.1 1204.82) scale(1 1.05)" font-size="41" text-anchor="end">40</text>
<text transform="translate(285.1 1109.38) scale(1 1.05)" font-size="41" text-anchor="end">60</text>
<text transform="translate(285.1 1013.94) scale(1 1.05)" font-size="41" text-anchor="end">80</text>
<text transform="translate(285.1 918.5) scale(1 1.05)" font-size="41" text-anchor="end">100</text>
<text transform="translate(344.6 1429.8) scale(1 1.045)" font-size="28" text-anchor="middle">0.1</text>
<text transform="translate(382.65 1429.8) scale(1 1.045)" font-size="28" text-anchor="middle">0.5</text>
<text transform="translate(420.7 1429.8) scale(1 1.045)" font-size="28" text-anchor="middle">1</text>
<text transform="translate(458.75 1429.8) scale(1 1.045)" font-size="28" text-anchor="middle">5</text>
<text transform="translate(496.8 1429.8) scale(1 1.045)" font-size="28" text-anchor="middle">5</text>
<text transform="translate(565.1 1429.8) scale(1 1.045)" font-size="28" text-anchor="middle">0.1</text>
<text transform="translate(603.15 1429.8) scale(1 1.045)" font-size="28" text-anchor="middle">0.5</text>
<text transform="translate(641.2 1429.8) scale(1 1.045)" font-size="28" text-anchor="middle">1</text>
<text transform="translate(679.25 1429.8) scale(1 1.045)" font-size="28" text-anchor="middle">5</text>
<text transform="translate(717.3 1429.8) scale(1 1.045)" font-size="28" text-anchor="middle">5</text>
<text transform="translate(785.6 1429.8) scale(1 1.045)" font-size="28" text-anchor="middle">0.1</text>
<text transform="translate(823.65 1429.8) scale(1 1.045)" font-size="28" text-anchor="middle">0.5</text>
<text transform="translate(861.7 1429.8) scale(1 1.045)" font-size="28" text-anchor="middle">1</text>
<text transform="translate(899.75 1429.8) scale(1 1.045)" font-size="28" text-anchor="middle">5</text>
<text transform="translate(937.8 1429.8) scale(1 1.045)" font-size="28" text-anchor="middle">5</text>
<text transform="translate(1006.1 1429.8) scale(1 1.045)" font-size="28" text-anchor="middle">0.1</text>
<text transform="translate(1044.15 1429.8) scale(1 1.045)" font-size="28" text-anchor="middle">0.5</text>
<text transform="translate(1082.2 1429.8) scale(1 1.045)" font-size="28" text-anchor="middle">1</text>
<text transform="translate(1120.25 1429.8) scale(1 1.045)" font-size="28" text-anchor="middle">5</text>
<text transform="translate(1158.3 1429.8) scale(1 1.045)" font-size="28" text-anchor="middle">5</text>
<text transform="translate(1226.6 1429.8) scale(1 1.045)" font-size="28" text-anchor="middle">0.1</text>
<text transform="translate(1264.65 1429.8) scale(1 1.045)" font-size="28" text-anchor="middle">0.5</text>
<text transform="translate(1302.7 1429.8) scale(1 1.045)" font-size="28" text-anchor="middle">1</text>
<text transform="translate(1340.75 1429.8) scale(1 1.045)" font-size="28" text-anchor="middle">5</text>
<text transform="translate(1378.8 1429.8) scale(1 1.045)" font-size="28" text-anchor="middle">5</text>
<text transform="translate(1447.1 1429.8) scale(1 1.045)" font-size="28" text-anchor="middle">0.1</text>
<text transform="translate(1485.15 1429.8) scale(1 1.045)" font-size="28" text-anchor="middle">0.5</text>
<text transform="translate(1523.2 1429.8) scale(1 1.045)" font-size="28" text-anchor="middle">1</text>
<text transform="translate(1561.25 1429.8) scale(1 1.045)" font-size="28" text-anchor="middle">5</text>
<text transform="translate(1599.3 1429.8) scale(1 1.045)" font-size="28" text-anchor="middle">5</text>
<text transform="translate(1667.6 1429.8) scale(1 1.045)" font-size="28" text-anchor="middle">0.1</text>
<text transform="translate(1705.65 1429.8) scale(1 1.045)" font-size="28" text-anchor="middle">0.5</text>
<text transform="translate(1743.7 1429.8) scale(1 1.045)" font-size="28" text-anchor="middle">1</text>
<text transform="translate(1781.75 1429.8) scale(1 1.045)" font-size="28" text-anchor="middle">5</text>
<text transform="translate(1819.8 1429.8) scale(1 1.045)" font-size="28" text-anchor="middle">5</text>
<g stroke="#000" stroke-width="6.8" stroke-linecap="round">
<line x1="328.5" y1="1450.9" x2="504.5" y2="1450.9"/>
<line x1="549" y1="1450.9" x2="725" y2="1450.9"/>
<line x1="769.5" y1="1450.9" x2="945.5" y2="1450.9"/>
<line x1="990" y1="1450.9" x2="1166" y2="1450.9"/>
<line x1="1210.5" y1="1450.9" x2="1386.5" y2="1450.9"/>
<line x1="1431" y1="1450.9" x2="1607" y2="1450.9"/>
<line x1="1651.5" y1="1450.9" x2="1827.5" y2="1450.9"/>
</g>
<text transform="translate(411.25 1506.1) scale(1 1.045)" font-size="40" text-anchor="middle">triS-HS</text>
<text transform="translate(628.1 1506.1) scale(1 1.045)" font-size="40" text-anchor="middle">De-N,O</text>
<text transform="translate(856.5 1506.1) scale(1 1.045)" font-size="40" text-anchor="middle">De-N</text>
<text transform="translate(1075.8 1506.1) scale(1 1.045)" font-size="40" text-anchor="middle">N-Ac</text>
<text transform="translate(1295.1 1506.1) scale(1 1.045)" font-size="40" text-anchor="middle">De-O</text>
<text transform="translate(1518.8 1506.1) scale(1 1.045)" font-size="40" text-anchor="middle">De-6O</text>
<text transform="translate(1735.2 1506.1) scale(1 1.045)" font-size="40" text-anchor="middle">De-2O</text>
<text transform="translate(200.2 1120.8) rotate(-90)" font-size="44" text-anchor="middle">Rel. Binding</text>
<text transform="translate(-2.5 1436) scale(1 1.045)" font-size="40.4">[GAG], µg/mL</text>
<rect x="1488.25" y="897.35" width="64.6" height="26.2" fill="#0433FF" stroke="#000" stroke-width="2.5"/>
<rect x="1488.25" y="972.65" width="64.6" height="26.2" fill="#7F7F7F" stroke="#000" stroke-width="2.5"/>
<text transform="translate(1589.2 927.2) scale(1 1.045)" font-size="43.6">+ Tie2 + Ang4</text>
<text transform="translate(1589.2 1002.2) scale(1 1.045)" font-size="43.8">+ Tie2</text>
<text style="stroke-width:0" transform="translate(-2.3 882.3)" font-size="75.3" font-weight="bold">b</text>
</g>
</g>
</svg>
</body>
</html>
